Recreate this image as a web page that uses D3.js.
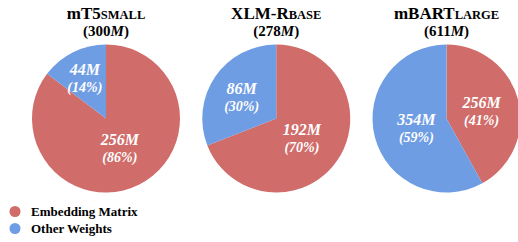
<!DOCTYPE html>
<html>
<head>
<meta charset="utf-8">
<script src="https://cdn.jsdelivr.net/npm/d3@7"></script>
<style>
  body { margin: 0; background: #fff; }
</style>
</head>
<body>
<svg class="chart"></svg>
<script>
// data
const models = ["mT5", "XLM-R", "mBART"];
const modelSubs = ["SMALL", "BASE", "LARGE"];
const totals = ["300", "278", "611"];
const embedding = [256, 192, 256];
const other = [44, 86, 354];
const embeddingPct = ["86%", "70%", "41%"];
const otherPct = ["14%", "30%", "59%"];
const seriesNames = ["Embedding Matrix", "Other Weights"];

let width = 518, height = 242;
let font = "Liberation Serif";
let svg = d3.select(".chart").attr("width", width).attr("height", height)
  .style("display", "block")
  .attr("font-family", font);

let color = d3.scaleOrdinal().domain(seriesNames).range(["#d06c6a", "#6f9de3"]);
let xPos = d3.scalePoint().domain(models).range([106, 446.5]);
let r = 74, cy = 118.5;

let pie = d3.pie().sort(null).value(d => d.value);
let arc = d3.arc().innerRadius(0).outerRadius(r);

models.forEach(function(m, i) {
  let cx = xPos(m);
  let g = svg.append("g").attr("transform", "translate(" + cx + "," + cy + ")");
  let slices = pie([
    {name: seriesNames[0], value: embedding[i], pct: embeddingPct[i]},
    {name: seriesNames[1], value: other[i], pct: otherPct[i]}
  ]);

  g.selectAll("path").data(slices).enter().append("path")
    .attr("d", arc)
    .attr("fill", d => color(d.data.name));

  slices.forEach(function(s) {
    let theta = s.endAngle - s.startAngle;
    let mid = (s.startAngle + s.endAngle) / 2;
    // sector centroid, kept off the centre for big slices
    let rho = 2 * r * Math.sin(theta / 2) / (3 * theta / 2);
    rho = Math.max(rho, r * 0.42);
    let lx = rho * Math.sin(mid), ly = -rho * Math.cos(mid);
    let t = g.append("text")
      .attr("font-family", font)
      .attr("text-anchor", "middle")
      .attr("fill", "#fff")
      .attr("font-weight", "bold")
      .attr("font-style", "italic");
    t.append("tspan").attr("x", lx).attr("y", ly - 1).attr("font-size", 16)
      .text(s.data.value + "M");
    t.append("tspan").attr("x", lx).attr("y", ly + 16).attr("font-size", 14)
      .text("(" + s.data.pct + ")");
  });

  let title = svg.append("text")
    .attr("font-family", font)
    .attr("x", cx).attr("y", 18.5)
    .attr("text-anchor", "middle")
    .attr("font-weight", "bold")
    .attr("font-size", 17)
    .attr("fill", "#000");
  title.append("tspan").text(m);
  title.append("tspan").attr("font-size", 12.5).text(modelSubs[i]);

  let sub = svg.append("text")
    .attr("font-family", font)
    .attr("x", cx).attr("y", 35.5)
    .attr("text-anchor", "middle")
    .attr("font-weight", "bold")
    .attr("font-size", 15)
    .attr("fill", "#000");
  sub.append("tspan").text("(" + totals[i]);
  sub.append("tspan").attr("font-style", "italic").text("M");
  sub.append("tspan").text(")");
});

// legend
let legY = d3.scalePoint().domain(seriesNames).range([211.5, 228.5]);
let leg = svg.selectAll(".leg").data(seriesNames).enter().append("g").attr("class", "leg");
leg.append("circle")
  .attr("cx", 15).attr("cy", d => legY(d)).attr("r", 5.5)
  .attr("fill", d => color(d));
leg.append("text")
  .attr("font-family", font)
  .attr("x", 31).attr("y", d => legY(d) + 4)
  .attr("font-weight", "bold").attr("font-size", 13)
  .attr("fill", "#000")
  .text(d => d);
</script>
</body>
</html>
